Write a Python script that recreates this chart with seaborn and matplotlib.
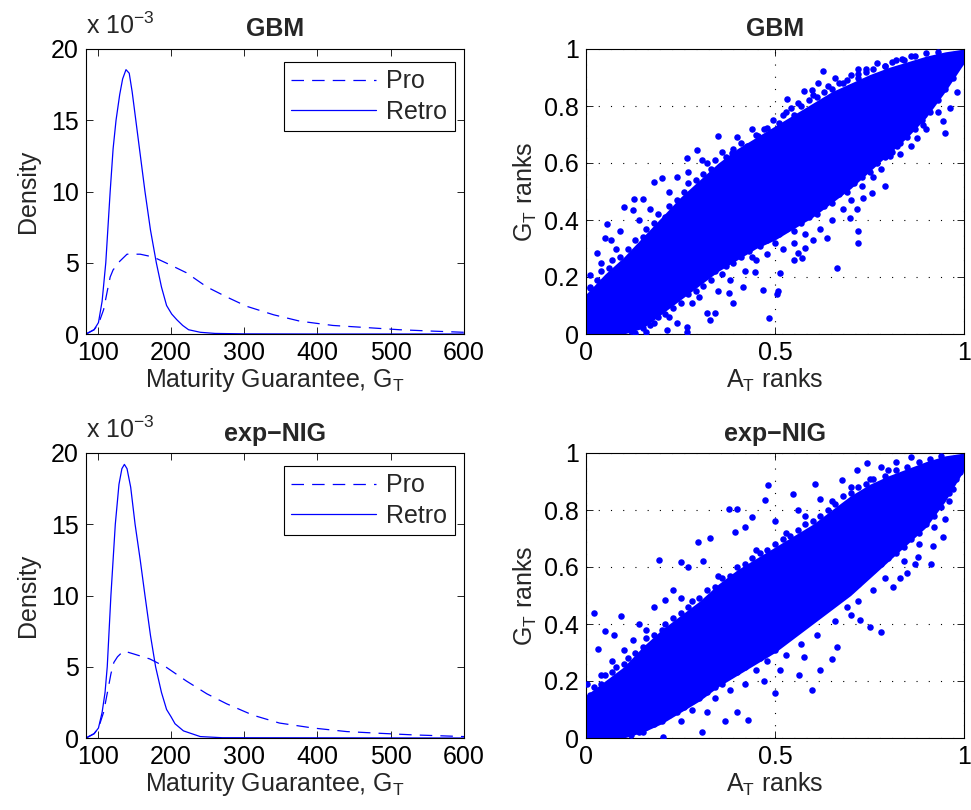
import numpy as np
import pandas as pd
import matplotlib
matplotlib.use("Agg")
import matplotlib.pyplot as plt
import seaborn as sns

sns.set_style("ticks")
plt.rcParams['font.family'] = ['Liberation Sans', 'DejaVu Sans']
plt.rcParams['mathtext.fontset'] = 'custom'
plt.rcParams['mathtext.rm'] = 'Liberation Sans'
plt.rcParams['mathtext.it'] = 'Liberation Sans:italic'
plt.rcParams['mathtext.bf'] = 'Liberation Sans:bold'

# ---------------- density data (values in units of 1e-3) ----------------
gbm_retro_x = [84, 95, 101, 106, 111, 117, 121, 125, 130, 134, 138.6, 143, 147, 152, 158, 164.5,
               172, 180, 187, 194, 201, 208, 216, 224, 240, 260, 300, 400, 600]
gbm_retro_y = [0, 0.3, 0.8, 2.3, 5.0, 10.0, 13.0, 15.0, 16.8, 17.9, 18.55, 18.3, 17.0, 15.0, 12.6, 10.0,
               7.3, 5.0, 3.3, 2.0, 1.4, 1.0, 0.6, 0.3, 0.12, 0.04, 0.01, 0, 0]
gbm_pro_x = [84, 95, 101, 108, 113, 117, 121, 125, 130, 140, 158, 176, 199, 221, 249, 276, 303, 340,
             376, 421, 467, 512, 558, 600]
gbm_pro_y = [0, 0.3, 0.7, 1.7, 3.0, 4.0, 4.5, 4.75, 5.1, 5.6, 5.6, 5.4, 4.85, 4.3, 3.3, 2.6, 1.95, 1.35,
             0.9, 0.6, 0.45, 0.3, 0.2, 0.12]

nig_retro_x = [84, 95, 101, 106, 110, 113, 118, 124, 129, 133, 136.4, 140, 145, 151, 158, 164.5, 172,
               179, 187, 194, 200, 205.5, 217, 240, 270, 600]
nig_retro_y = [0, 0.3, 0.7, 1.8, 3.2, 5.0, 10.0, 15.0, 17.8, 18.9, 19.2, 18.9, 17.6, 15.0, 12.5, 10.0, 7.2,
               5.0, 3.2, 2.0, 1.5, 1.0, 0.5, 0.1, 0.02, 0]
nig_pro_x = [84, 95, 101, 108, 114, 118, 122, 127, 131, 136, 149, 171, 194, 221, 249, 276, 312, 348,
             394, 440, 485, 530, 600]
nig_pro_y = [0, 0.3, 0.7, 1.8, 3.4, 4.5, 5.3, 5.7, 5.9, 6.1, 5.9, 5.55, 4.95, 4.0, 3.1, 2.4, 1.6, 1.05,
             0.7, 0.45, 0.33, 0.22, 0.1]

density_xticks = [100, 200, 300, 400, 500, 600]
density_yticks = [0, 5, 10, 15, 20]

# ---------------- rank scatter data ----------------
core_x = [0, 0.05, 0.1, 0.15, 0.2, 0.25, 0.3, 0.35, 0.4, 0.45, 0.5, 0.55, 0.6, 0.65, 0.7, 0.75, 0.8,
          0.85, 0.9, 0.95, 1.0]
gbm_core_hi = [0.14, 0.21, 0.27, 0.34, 0.41, 0.48, 0.54, 0.60, 0.65, 0.69, 0.73, 0.77, 0.81, 0.85, 0.88,
               0.91, 0.935, 0.955, 0.975, 0.99, 1.0]
gbm_core_lo = [0, 0, 0, 0.02, 0.07, 0.12, 0.17, 0.22, 0.26, 0.30, 0.33, 0.37, 0.41, 0.46, 0.51, 0.57,
               0.63, 0.69, 0.76, 0.85, 0.95]

gbm_outliers = [(0.011, 0.207), (0.011, 0.166), (0.028, 0.283), (0.050, 0.336), (0.065, 0.330),
                (0.056, 0.386), (0.101, 0.447), (0.128, 0.474), (0.150, 0.474), (0.125, 0.436),
                (0.180, 0.535), (0.200, 0.547), (0.266, 0.617), (0.293, 0.646), (0.307, 0.611),
                (0.350, 0.696), (0.385, 0.635), (0.425, 0.658), (0.456, 0.693), (0.478, 0.722),
                (0.496, 0.752), (0.533, 0.826), (0.542, 0.793), (0.577, 0.851), (0.597, 0.855),
                (0.615, 0.881), (0.626, 0.924), (0.679, 0.881), (0.719, 0.930), (0.720, 0.913),
                (0.790, 0.939), (0.836, 0.965), (0.04, 0.25), (0.08, 0.30), (0.09, 0.36), (0.14, 0.40),
                (0.17, 0.44), (0.22, 0.50), (0.24, 0.55), (0.27, 0.57), (0.32, 0.60), (0.36, 0.64),
                (0.40, 0.69), (0.44, 0.72), (0.52, 0.77), (0.56, 0.81), (0.60, 0.84), (0.64, 0.87),
                (0.66, 0.90), (0.70, 0.91), (0.74, 0.93), (0.77, 0.95), (0.82, 0.96), (0.86, 0.975),
                (0.160, 0.008), (0.13, 0.005), (0.213, 0.014), (0.266, 0.008), (0.266, 0.025),
                (0.24, 0.04), (0.328, 0.049), (0.340, 0.073), (0.32, 0.075), (0.390, 0.108),
                (0.377, 0.143), (0.416, 0.166), (0.447, 0.219), (0.467, 0.155), (0.485, 0.055),
                (0.507, 0.152), (0.505, 0.14), (0.513, 0.213), (0.549, 0.260), (0.571, 0.266),
                (0.56, 0.285), (0.579, 0.301), (0.601, 0.330), (0.637, 0.336), (0.665, 0.231),
                (0.698, 0.406), (0.718, 0.438), (0.720, 0.363), (0.720, 0.318), (0.734, 0.477),
                (0.756, 0.494), (0.791, 0.520), (0.804, 0.623), (0.822, 0.658), (0.875, 0.687),
                (0.892, 0.734), (0.945, 0.746), (0.950, 0.707), (0.963, 0.793), (0.981, 0.848),
                (0.18, 0.04), (0.22, 0.06), (0.28, 0.11), (0.30, 0.13), (0.35, 0.15), (0.38, 0.19),
                (0.42, 0.22), (0.45, 0.26), (0.48, 0.28), (0.52, 0.30), (0.55, 0.32), (0.58, 0.35),
                (0.62, 0.37), (0.65, 0.40), (0.68, 0.44), (0.70, 0.47), (0.73, 0.52), (0.76, 0.55),
                (0.78, 0.58), (0.83, 0.63), (0.86, 0.66), (0.90, 0.72), (0.93, 0.78)]
gbm_upper_fringe = [(0.01, 0.16), (0.03, 0.19), (0.04, 0.22), (0.06, 0.23), (0.07, 0.26), (0.09, 0.27),
                    (0.11, 0.30), (0.12, 0.27), (0.13, 0.33), (0.15, 0.34), (0.16, 0.37), (0.18, 0.39),
                    (0.19, 0.42), (0.21, 0.41), (0.22, 0.45), (0.24, 0.47), (0.26, 0.50), (0.27, 0.53),
                    (0.29, 0.54), (0.31, 0.56), (0.33, 0.58), (0.34, 0.61), (0.37, 0.62), (0.38, 0.60),
                    (0.39, 0.65), (0.41, 0.67), (0.43, 0.66), (0.45, 0.70), (0.47, 0.72), (0.49, 0.71),
                    (0.51, 0.74), (0.53, 0.78), (0.55, 0.77), (0.57, 0.80), (0.59, 0.82), (0.61, 0.83),
                    (0.63, 0.85), (0.65, 0.86), (0.67, 0.88), (0.69, 0.89), (0.72, 0.90), (0.74, 0.92),
                    (0.76, 0.93), (0.79, 0.94), (0.81, 0.955), (0.84, 0.96), (0.87, 0.975), (0.90, 0.985),
                    (0.93, 0.99)]
gbm_lower_fringe = [(0.12, 0.01), (0.15, 0.02), (0.17, 0.03), (0.19, 0.06), (0.21, 0.07), (0.23, 0.09),
                    (0.25, 0.11), (0.27, 0.14), (0.29, 0.15), (0.31, 0.17), (0.33, 0.19), (0.34, 0.22),
                    (0.36, 0.21), (0.37, 0.24), (0.39, 0.25), (0.41, 0.27), (0.43, 0.29), (0.44, 0.27),
                    (0.46, 0.31), (0.48, 0.33), (0.50, 0.32), (0.51, 0.35), (0.53, 0.37), (0.55, 0.36),
                    (0.57, 0.39), (0.59, 0.41), (0.61, 0.42), (0.63, 0.45), (0.65, 0.46), (0.67, 0.49),
                    (0.69, 0.50), (0.71, 0.53), (0.73, 0.55), (0.75, 0.57), (0.77, 0.60), (0.79, 0.62),
                    (0.81, 0.64), (0.83, 0.67), (0.85, 0.69), (0.87, 0.72), (0.89, 0.75), (0.91, 0.78),
                    (0.93, 0.82), (0.95, 0.86), (0.97, 0.90), (0.99, 0.95)]

nig_core_hi = [0.15, 0.20, 0.25, 0.32, 0.38, 0.43, 0.48, 0.54, 0.59, 0.63, 0.67, 0.71, 0.75, 0.80, 0.85,
               0.89, 0.92, 0.945, 0.97, 0.99, 1.0]
nig_core_lo = [0, 0, 0, 0.02, 0.05, 0.09, 0.13, 0.18, 0.22, 0.26, 0.30, 0.35, 0.40, 0.45, 0.50, 0.56,
               0.62, 0.68, 0.74, 0.83, 0.94]

nig_outliers = [(0.002, 0.191), (0.021, 0.440), (0.033, 0.311), (0.050, 0.375), (0.092, 0.427),
                (0.073, 0.36), (0.125, 0.343), (0.14, 0.40), (0.194, 0.626), (0.209, 0.485), (0.18, 0.46),
                (0.23, 0.52), (0.251, 0.619), (0.27, 0.60), (0.297, 0.688), (0.328, 0.703), (0.31, 0.62),
                (0.377, 0.805), (0.399, 0.805), (0.394, 0.722), (0.42, 0.74), (0.438, 0.775),
                (0.474, 0.836), (0.482, 0.887), (0.50, 0.76), (0.548, 0.857), (0.56, 0.80),
                (0.606, 0.890), (0.62, 0.84), (0.676, 0.904), (0.716, 0.942), (0.743, 0.965),
                (0.78, 0.95), (0.82, 0.97), (0.86, 0.985), (0.04, 0.22), (0.07, 0.27), (0.10, 0.31),
                (0.16, 0.38), (0.25, 0.49), (0.35, 0.57), (0.45, 0.66), (0.53, 0.72), (0.58, 0.78),
                (0.65, 0.83), (0.70, 0.88), (0.75, 0.91), (0.80, 0.94),
                (0.205, 0.004), (0.306, 0.021), (0.319, 0.091), (0.368, 0.060), (0.399, 0.091),
                (0.429, 0.062), (0.500, 0.158), (0.513, 0.237), (0.47, 0.20), (0.564, 0.220),
                (0.578, 0.284), (0.597, 0.167), (0.619, 0.240), (0.650, 0.278), (0.663, 0.319),
                (0.725, 0.413), (0.751, 0.389), (0.781, 0.372), (0.70, 0.43), (0.813, 0.530),
                (0.83, 0.56), (0.85, 0.58), (0.870, 0.609), (0.877, 0.635), (0.914, 0.609),
                (0.918, 0.674), (0.945, 0.705), (0.949, 0.770), (0.972, 0.875), (0.989, 0.933),
                (0.15, 0.02), (0.25, 0.06), (0.28, 0.10), (0.34, 0.14), (0.38, 0.17), (0.42, 0.19),
                (0.45, 0.24), (0.48, 0.27), (0.53, 0.29), (0.57, 0.33), (0.61, 0.36), (0.66, 0.41),
                (0.69, 0.46), (0.72, 0.48), (0.76, 0.52), (0.79, 0.56), (0.84, 0.62), (0.88, 0.68),
                (0.92, 0.74), (0.96, 0.83)]
nig_upper_fringe = [(0.01, 0.15), (0.02, 0.18), (0.04, 0.19), (0.05, 0.22), (0.07, 0.23), (0.08, 0.25),
                    (0.10, 0.26), (0.11, 0.28), (0.13, 0.30), (0.15, 0.32), (0.16, 0.35), (0.18, 0.36),
                    (0.20, 0.38), (0.21, 0.40), (0.23, 0.42), (0.25, 0.44), (0.27, 0.46), (0.28, 0.48),
                    (0.30, 0.49), (0.32, 0.52), (0.34, 0.53), (0.36, 0.56), (0.38, 0.57), (0.40, 0.60),
                    (0.42, 0.61), (0.44, 0.63), (0.46, 0.65), (0.48, 0.66), (0.50, 0.68), (0.52, 0.70),
                    (0.54, 0.71), (0.56, 0.73), (0.58, 0.75), (0.60, 0.76), (0.62, 0.78), (0.64, 0.80),
                    (0.66, 0.82), (0.68, 0.85), (0.70, 0.86), (0.72, 0.88), (0.74, 0.89), (0.76, 0.91),
                    (0.79, 0.92), (0.82, 0.94), (0.85, 0.95), (0.88, 0.97), (0.91, 0.98), (0.94, 0.99)]
nig_lower_fringe = [(0.12, 0.01), (0.14, 0.02), (0.16, 0.04), (0.18, 0.05), (0.20, 0.06), (0.22, 0.08),
                    (0.24, 0.09), (0.26, 0.11), (0.28, 0.13), (0.30, 0.14), (0.32, 0.16), (0.34, 0.18),
                    (0.36, 0.19), (0.38, 0.22), (0.40, 0.23), (0.42, 0.25), (0.44, 0.27), (0.46, 0.28),
                    (0.48, 0.30), (0.50, 0.31), (0.52, 0.34), (0.54, 0.36), (0.56, 0.38), (0.58, 0.40),
                    (0.60, 0.42), (0.62, 0.44), (0.64, 0.46), (0.66, 0.48), (0.68, 0.50), (0.70, 0.52),
                    (0.72, 0.54), (0.74, 0.57), (0.76, 0.59), (0.78, 0.61), (0.80, 0.63), (0.82, 0.65),
                    (0.84, 0.67), (0.86, 0.70), (0.88, 0.72), (0.90, 0.75), (0.92, 0.78), (0.94, 0.81),
                    (0.96, 0.86), (0.98, 0.91)]

rank_xticks = [0, 0.5, 1]
rank_yticks = [0, 0.2, 0.4, 0.6, 0.8, 1]

BLUE = (0, 0, 1)
FS = 18

fig = plt.figure(figsize=(9.71, 8.10), dpi=100)
W = 378 / 971
H = 285 / 810
ax_tl = fig.add_axes([86 / 971, 1 - 334 / 810, W, H])
ax_tr = fig.add_axes([586 / 971, 1 - 334 / 810, W, H])
ax_bl = fig.add_axes([86 / 971, 1 - 738 / 810, W, H])
ax_br = fig.add_axes([586 / 971, 1 - 738 / 810, W, H])


def style_axes(ax):
    for s in ax.spines.values():
        s.set_linewidth(0.8)
        s.set_color('black')
    ax.tick_params(direction='in', length=5, width=0.6, top=True, right=True,
                   labelsize=FS, colors='black', pad=5)


def density_panel(ax, title, px, py, rx, ry):
    dfp = pd.DataFrame({'x': px, 'y': py})
    dfr = pd.DataFrame({'x': rx, 'y': ry})
    sns.lineplot(data=dfp, x='x', y='y', ax=ax, color=BLUE, lw=0.9, label='Pro', sort=False)
    sns.lineplot(data=dfr, x='x', y='y', ax=ax, color=BLUE, lw=0.9, label='Retro', sort=False)
    ax.lines[0].set_dashes((10, 6.5))
    ax.set_xlim(84, 600)
    ax.set_ylim(0, 20)
    ax.set_xticks(density_xticks)
    ax.set_yticks(density_yticks)
    ax.set_xlabel('Maturity Guarantee, G$_\\mathrm{T}$', fontsize=FS, labelpad=1)
    ax.set_ylabel('Density', fontsize=FS, labelpad=8)
    ax.set_title(title, fontsize=FS, fontweight='bold', pad=9)
    ax.text(0.0, 1.035, 'x 10$^{-3}$', transform=ax.transAxes, fontsize=FS, ha='left', va='bottom')
    style_axes(ax)
    leg = ax.legend(loc='upper right', fontsize=FS, frameon=True, fancybox=False,
                    handlelength=3.4, borderpad=0.3, labelspacing=0.25, handletextpad=0.4,
                    bbox_to_anchor=(0.975, 0.955), borderaxespad=0)
    leg.get_frame().set_edgecolor('black')
    leg.get_frame().set_linewidth(0.8)
    leg.get_frame().set_alpha(1)
    leg.get_lines()[0].set_dashes((10, 6.5))


def rank_panel(ax, title, lo, hi, outliers, upper, lower):
    ax.fill_between(core_x, lo, hi, color=BLUE, lw=0, zorder=2)
    pts = outliers + upper + lower
    xs = [p[0] for p in pts]
    ys = [p[1] for p in pts]
    sns.scatterplot(x=xs, y=ys, ax=ax, color=BLUE, s=22, linewidth=0, zorder=3)
    ax.set_xlim(0, 1)
    ax.set_ylim(0, 1)
    ax.set_xticks(rank_xticks)
    ax.set_xticklabels(['0', '0.5', '1'])
    ax.set_yticks(rank_yticks)
    ax.set_yticklabels(['0', '0.2', '0.4', '0.6', '0.8', '1'])
    ax.set_axisbelow(True)
    ax.grid(True, ls=(0, (1, 10)), color='black', lw=0.8)
    ax.set_xlabel('A$_\\mathrm{T}$ ranks', fontsize=FS, labelpad=1)
    ax.set_ylabel('G$_\\mathrm{T}$ ranks', fontsize=FS, labelpad=4)
    ax.set_title(title, fontsize=FS, fontweight='bold', pad=9)
    style_axes(ax)


density_panel(ax_tl, 'GBM', gbm_pro_x, gbm_pro_y, gbm_retro_x, gbm_retro_y)
density_panel(ax_bl, 'exp\u2212NIG', nig_pro_x, nig_pro_y, nig_retro_x, nig_retro_y)
rank_panel(ax_tr, 'GBM', gbm_core_lo, gbm_core_hi, gbm_outliers, gbm_upper_fringe, gbm_lower_fringe)
rank_panel(ax_br, 'exp\u2212NIG', nig_core_lo, nig_core_hi, nig_outliers, nig_upper_fringe,
           nig_lower_fringe)

fig.savefig('out.png', dpi=100, facecolor='white')
